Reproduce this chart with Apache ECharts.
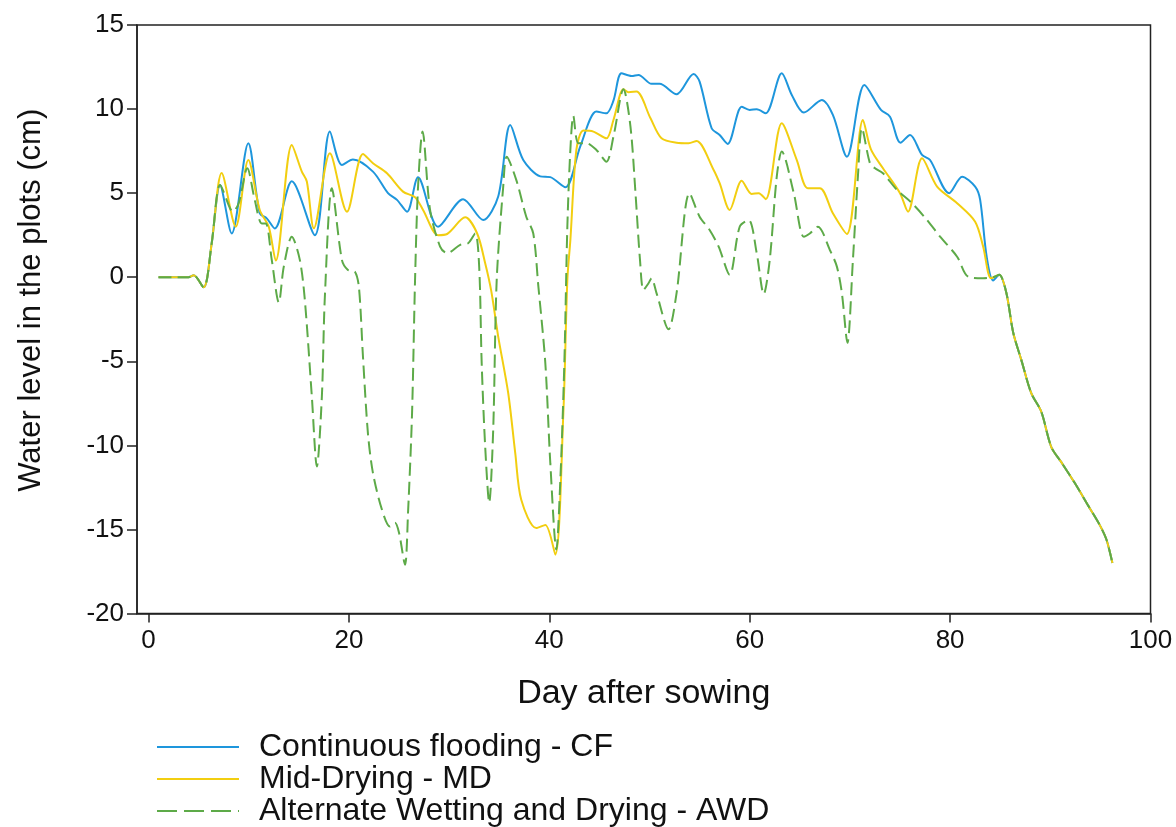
<!DOCTYPE html>
<html><head><meta charset="utf-8">
<script src="https://cdn.jsdelivr.net/npm/echarts@6/dist/echarts.min.js"></script>
<style>html,body{margin:0;padding:0;background:#fff}#c{width:1176px;height:827px}</style>
</head><body><div id="c"></div>
<script>
// ---- data ----
const seriesNames = ['Continuous flooding - CF', 'Mid-Drying - MD', 'Alternate Wetting and Drying - AWD'];
const xTicks = [0, 20, 40, 60, 80, 100];

const commonStartDays = [1, 2, 3, 4, 4.5, 5.5, 6.3];
const commonStartLevel = [0, 0, 0, 0, 0.12, -0.6, 2.0];
const commonTailDays = [84.9, 85.6, 86.3, 87.1, 88.1, 89.1, 90.1, 91.1, 92.4, 93.8, 94.9, 95.6, 96.2];
const commonTailLevel = [0.14, -0.9, -3.3, -4.9, -6.9, -8.0, -10.1, -11.0, -12.2, -13.6, -14.7, -15.6, -17.0];

const cfDays = [7.14, 8.3, 9.96, 11.1, 11.8, 12.6, 14.3, 16.6, 18.1, 19.3, 20.4, 22.4, 23.9, 24.8, 25.8, 26.9, 28.9, 31.4, 33.4, 34.9, 36.1, 37.4, 39.1, 40.1, 41.6, 43.1, 44.7, 45.7, 46.4, 47.2, 48.2, 48.9, 50.2, 51.0, 52.7, 54.4, 55.0, 56.2, 57.0, 57.8, 59.2, 60.0, 60.7, 61.6, 63.2, 64.2, 65.4, 67.2, 68.3, 69.7, 71.45, 73.1, 74.0, 75.05, 76.0, 77.2, 78.0, 79.9, 81.2, 82.5, 83.0, 83.65, 84.3];
const cfLevel = [5.49, 2.6, 7.97, 3.8, 3.5, 2.9, 5.7, 2.5, 8.66, 6.68, 7.0, 6.28, 5.0, 4.6, 3.9, 5.95, 3.0, 4.64, 3.4, 4.8, 9.05, 6.97, 6.0, 5.95, 5.35, 7.8, 9.85, 9.75, 10.5, 12.13, 11.97, 12.03, 11.5, 11.5, 10.88, 12.09, 11.63, 8.86, 8.46, 7.93, 10.14, 9.95, 9.99, 9.75, 12.13, 10.84, 9.79, 10.54, 9.65, 7.17, 11.43, 9.95, 9.55, 8.0, 8.46, 7.27, 6.97, 5.0, 5.98, 5.39, 4.6, 1.22, -0.2];

const mdDays = [7.3, 8.7, 9.96, 11.1, 12.0, 12.7, 14.3, 15.3, 15.8, 16.5, 18.1, 19.8, 21.4, 22.4, 23.8, 25.4, 26.6, 27.4, 28.9, 29.8, 31.6, 32.8, 33.6, 34.2, 34.9, 35.9, 36.6, 37.2, 38.7, 39.6, 40.6, 41.4, 41.8, 42.1, 42.7, 43.4, 44.4, 45.7, 46.4, 47.4, 47.9, 48.7, 50.1, 51.2, 52.7, 53.9, 54.7, 56.4, 57.0, 58.0, 59.2, 60.2, 60.9, 61.6, 63.2, 64.7, 65.8, 67.0, 68.3, 69.7, 71.3, 72.1, 73.3, 75.0, 75.8, 77.2, 78.7, 80.7, 82.5, 83.3, 84.1];
const mdLevel = [6.2, 3.0, 6.97, 4.0, 3.0, 0.99, 7.86, 6.28, 5.69, 2.91, 7.37, 3.9, 7.33, 6.78, 6.18, 5.09, 4.76, 4.0, 2.5, 2.57, 3.56, 2.6, 0.83, -0.8, -3.53, -6.9, -10.46, -13.24, -14.92, -14.73, -16.5, -8.09, -0.16, 2.2, 7.57, 8.72, 8.66, 8.26, 9.35, 11.18, 11.0, 11.04, 9.45, 8.26, 8.0, 7.97, 8.1, 6.38, 5.59, 4.0, 5.74, 4.95, 5.0, 4.64, 9.16, 6.97, 5.29, 5.29, 3.8, 2.57, 9.35, 7.6, 6.48, 5.0, 3.9, 7.07, 5.39, 4.4, 3.3, 1.82, -0.06];

const awdDays = [7.14, 8.13, 8.4, 9.0, 9.86, 10.6, 11.3, 11.7, 12.3, 13.0, 13.5, 14.3, 15.1, 15.6, 16.3, 16.8, 17.3, 17.6, 18.3, 19.3, 19.9, 20.6, 21.0, 21.4, 21.9, 22.4, 23.3, 24.1, 24.6, 25.0, 25.6, 25.9, 26.3, 26.6, 26.9, 27.35, 28.1, 29.1, 29.8, 31.1, 31.9, 32.6, 33.0, 33.25, 33.6, 34.0, 34.4, 34.75, 35.4, 35.75, 36.7, 37.7, 38.4, 38.9, 39.6, 40.1, 40.7, 41.1, 41.5, 41.8, 42.1, 42.4, 42.9, 43.7, 44.7, 45.7, 46.4, 47.4, 48.1, 48.6, 49.05, 49.4, 49.9, 50.2, 50.7, 51.9, 52.7, 54.0, 55.0, 56.0, 56.9, 58.0, 59.0, 59.9, 60.7, 61.4, 62.0, 62.7, 63.2, 64.4, 65.4, 66.0, 66.8, 68.0, 68.7, 69.2, 69.75, 70.3, 70.8, 71.2, 72.0, 72.5, 73.3, 74.7, 76.2, 77.7, 79.0, 80.7, 81.8, 83.3, 84.3];
const awdLevel = [5.49, 4.1, 3.9, 4.4, 6.48, 4.6, 3.2, 3.2, 1.03, -1.5, 0.63, 2.41, 1.03, -1.35, -7.1, -11.26, -7.1, -1.15, 5.29, 1.03, 0.43, 0.33, -0.6, -4.7, -9.3, -11.65, -13.83, -14.83, -14.6, -15.2, -17.1, -14.0, -8.1, -0.16, 5.39, 8.66, 4.0, 1.82, 1.43, 1.92, 2.02, 2.6, 0.63, -5.1, -10.07, -13.4, -9.07, -0.16, 5.39, 7.17, 5.79, 3.6, 2.6, -0.5, -5.1, -11.06, -16.2, -12.05, -5.1, 3.0, 7.57, 9.59, 7.97, 7.97, 7.57, 6.87, 8.36, 11.18, 8.95, 5.0, 1.03, -0.76, -0.36, -0.06, -0.95, -3.1, -0.95, 5.0, 3.6, 2.81, 1.82, 0.14, 3.0, 3.4, 1.43, -1.0, 1.03, 5.98, 7.47, 5.0, 2.41, 2.6, 3.0, 1.62, 0.63, -0.95, -3.9, 1.03, 6.0, 8.86, 6.78, 6.48, 6.18, 5.19, 4.4, 3.4, 2.41, 1.22, 0.03, -0.06, 0.0];

// ---- build ----
function pairs(days, level) {
  const d = commonStartDays.concat(days, commonTailDays);
  const v = commonStartLevel.concat(level, commonTailLevel);
  return d.map((x, i) => [x, v[i]]);
}
const FONT = '"Liberation Sans", Arial, sans-serif';
const solidIcon = 'path://M0,0h82v2h-82z';
const dashIcon = 'path://M0,0h20v2h-20z M27,0h20v2h-20z M54,0h20v2h-20z M81,0h1v2h-1z';
const chart = echarts.init(document.getElementById('c'), null, {renderer: 'canvas'});
chart.setOption({
  backgroundColor: '#fff',
  animation: false,
  grid: {left: 137, right: 25.5, top: 25, bottom: 213.5, show: true, borderColor: '#222', borderWidth: 1.5, backgroundColor: 'transparent'},
  legend: {
    orient: 'vertical', left: 157, top: 731, width: 800, height: 200, padding: 0, itemGap: 0, itemWidth: 82, itemHeight: 2,
    symbolKeepAspect: false,
    data: [
      {name: seriesNames[0], icon: solidIcon},
      {name: seriesNames[1], icon: solidIcon},
      {name: seriesNames[2], icon: dashIcon}
    ],
    textStyle: {fontFamily: FONT, fontSize: 32, color: '#111', lineHeight: 30.5, padding: [0, 0, 0, 15]}
  },
  xAxis: {
    type: 'value', min: -1.15, max: 100,
    name: 'Day after sowing', nameLocation: 'middle', nameGap: 63,
    nameTextStyle: {fontFamily: FONT, fontSize: 34, color: '#111'},
    axisLine: {show: true, onZero: false, lineStyle: {color: '#222', width: 1.5}},
    axisTick: {show: true, customValues: xTicks, length: 9, lineStyle: {color: '#222', width: 1.5}},
    axisLabel: {customValues: xTicks, fontFamily: FONT, fontSize: 26, color: '#111', margin: 14},
    splitLine: {show: false}
  },
  yAxis: {
    type: 'value', min: -20, max: 15, interval: 5,
    name: 'Water level in the plots (cm)', nameLocation: 'middle', nameGap: 90,
    nameTextStyle: {fontFamily: FONT, fontSize: 31, color: '#111', padding: [0, 0, 0, 38]},
    axisLine: {show: true, onZero: false, lineStyle: {color: '#222', width: 1.5}},
    axisTick: {show: true, length: 10, lineStyle: {color: '#222', width: 1.5}},
    axisLabel: {fontFamily: FONT, fontSize: 26, color: '#111', margin: 13},
    splitLine: {show: false}
  },
  series: [
    {name: seriesNames[0], type: 'line', data: pairs(cfDays, cfLevel), showSymbol: false, symbol: 'none',
     smooth: 0.3, color: '#1E96DC', lineStyle: {color: '#1E96DC', width: 2}, z: 2},
    {name: seriesNames[1], type: 'line', data: pairs(mdDays, mdLevel), showSymbol: false, symbol: 'none',
     smooth: 0.3, color: '#F2CE10', lineStyle: {color: '#F2CE10', width: 2}, z: 3},
    {name: seriesNames[2], type: 'line', data: pairs(awdDays, awdLevel), showSymbol: false, symbol: 'none',
     smooth: 0.3, color: '#5DAA48', lineStyle: {color: '#5DAA48', width: 2, type: [13, 6]}, z: 4}
  ]
});
</script></body></html>
